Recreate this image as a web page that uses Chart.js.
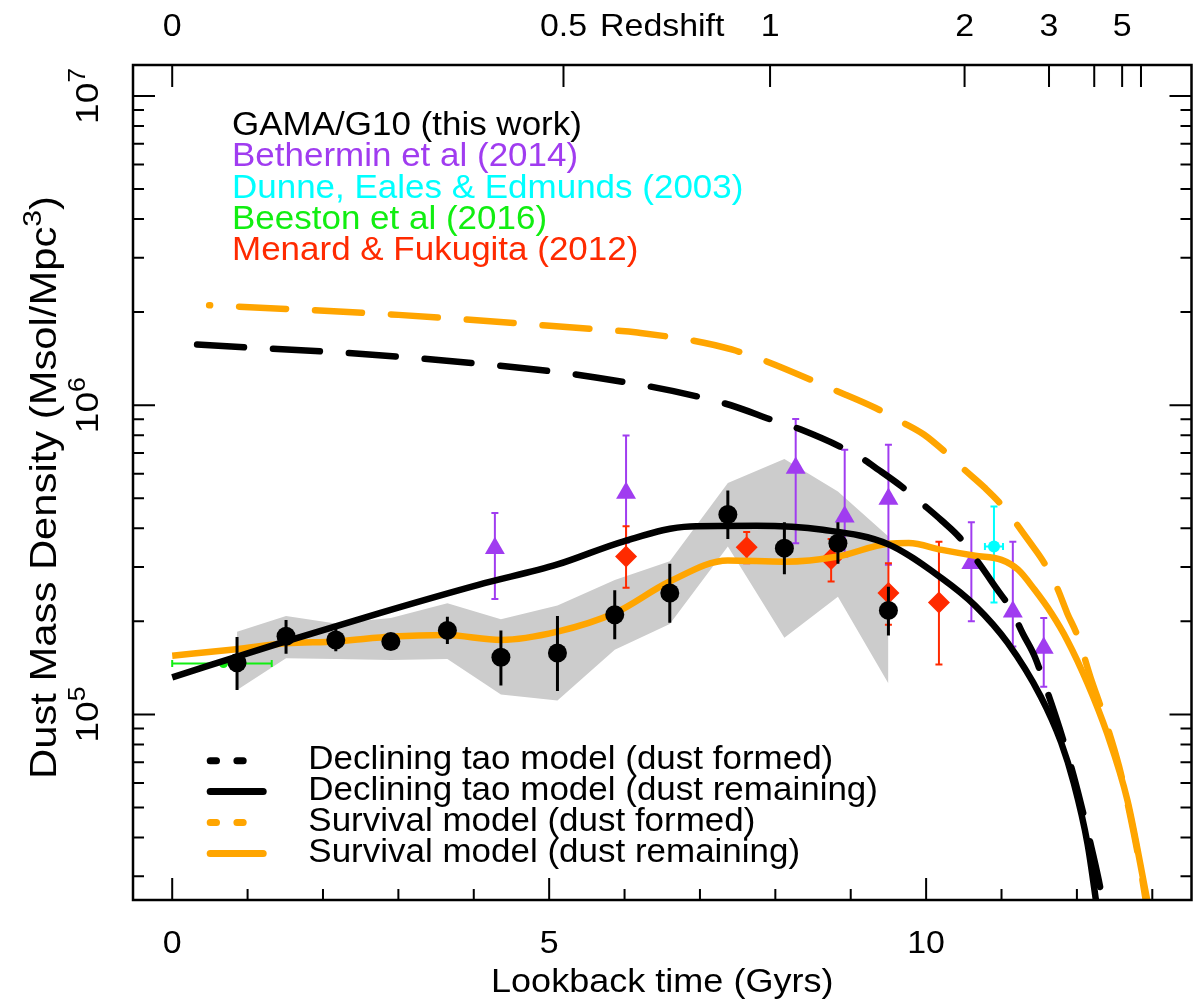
<!DOCTYPE html>
<html>
<head>
<meta charset="utf-8">
<title>Dust mass density vs lookback time</title>
<script src="https://cdn.jsdelivr.net/npm/chart.js@4.4.1/dist/chart.umd.min.js"></script>
<style>
	html, body { margin: 0; padding: 0; background: #fff; }
	canvas { display: block; }
</style>
</head>
<body>
<canvas id="dustChart" width="1203" height="1005"></canvas>
<script>
// lookback time in Gyr, dust mass density in Msol/Mpc^3
const gamaTime = [0.86, 1.51, 2.17, 2.90, 3.65, 4.36, 5.11, 5.87, 6.60, 7.37, 8.12, 8.83, 9.50];
const gamaRho = [1.47e5, 1.79e5, 1.74e5, 1.72e5, 1.87e5, 1.53e5, 1.58e5, 2.10e5, 2.47e5, 4.43e5, 3.45e5, 3.58e5, 2.17e5];
const gamaRhoHi = [1.78e5, 2.02e5, 1.90e5, 1.77e5, 2.07e5, 1.87e5, 2.08e5, 2.52e5, 3.07e5, 5.30e5, 4.18e5, 4.18e5, 2.59e5];
const gamaRhoLo = [1.20e5, 1.57e5, 1.60e5, 1.67e5, 1.69e5, 1.24e5, 1.19e5, 1.75e5, 1.98e5, 3.69e5, 2.84e5, 3.07e5, 1.80e5];
const gamaBandHi = [1.85e5, 2.08e5, 1.97e5, 2.05e5, 2.29e5, 2.03e5, 2.25e5, 2.72e5, 3.13e5, 5.60e5, 6.70e5, 5.26e5, 3.76e5];
const gamaBandLo = [1.20e5, 1.52e5, 1.51e5, 1.50e5, 1.51e5, 1.16e5, 1.11e5, 1.62e5, 1.96e5, 3.49e5, 1.77e5, 2.40e5, 1.26e5];

const bethTime = [4.28, 6.02, 8.27, 8.92, 9.50, 10.60, 11.15, 11.56];
const bethRho = [3.45e5, 5.20e5, 6.27e5, 4.36e5, 4.97e5, 3.08e5, 2.15e5, 1.64e5];
const bethRhoHi = [4.48e5, 7.98e5, 9.02e5, 7.18e5, 7.45e5, 4.18e5, 3.62e5, 2.05e5];
const bethRhoLo = [2.36e5, 3.59e5, 3.58e5, 3.24e5, 3.05e5, 2.00e5, 1.66e5, 1.23e5];

const menardTime = [6.02, 7.62, 8.74, 9.50, 10.17];
const menardRho = [3.24e5, 3.47e5, 3.18e5, 2.47e5, 2.30e5];
const menardRhoHi = [4.06e5, 3.89e5, 3.69e5, 3.08e5, 3.62e5];
const menardRhoLo = [2.57e5, 3.08e5, 2.69e5, 1.95e5, 1.45e5];

const dunneTime = [10.90];
const dunneTimeLo = [10.78];
const dunneTimeHi = [11.02];
const dunneRho = [3.49e5];
const dunneRhoHi = [4.70e5];
const dunneRhoLo = [2.30e5];

const beestonTime = [0.68];
const beestonTimeLo = [0.0];
const beestonTimeHi = [1.32];
const beestonRho = [1.46e5];

const tauFormedTime = [0.33, 3.0, 5.64, 7.31, 8.01, 8.34, 9.11, 9.37, 9.68, 9.94, 10.21, 10.45, 10.73, 10.93, 11.13, 11.28, 11.44, 11.57, 11.77, 11.96, 12.18, 12.29, 12.45];
const tauFormedRho = [1.57e6, 1.435e6, 1.227e6, 1.016e6, 8.87e5, 8.34e5, 6.82e5, 6.18e5, 5.45e5, 4.82e5, 4.23e5, 3.72e5, 3.01e5, 2.56e5, 2.18e5, 1.83e5, 1.54e5, 1.26e5, 9.02e4, 6.30e4, 3.83e4, 2.91e4, 1.78e4];

const tauRemainTime = [0, 1.42, 2.74, 4.06, 5.11, 5.99, 6.87, 7.75, 8.63, 9.50, 10.21, 10.65, 11.08, 11.52, 11.79, 11.96, 12.14, 12.25, 12.40];
const tauRemainRho = [1.318e5, 1.698e5, 2.123e5, 2.624e5, 3.055e5, 3.631e5, 4.055e5, 4.074e5, 3.954e5, 3.548e5, 2.754e5, 2.249e5, 1.706e5, 1.143e5, 8.13e4, 5.98e4, 3.83e4, 2.53e4, 1.35e4];

const survFormedTime = [0.49, 1.55, 3.0, 5.64, 6.17, 7.42, 8.93, 9.33, 9.66, 9.97, 10.27, 10.51, 10.78, 11.02, 11.37, 11.57, 11.74, 11.87, 12.01, 12.18, 12.36, 12.56, 12.71, 12.84, 12.91, 13.05];
const survFormedRho = [2.104e6, 2.046e6, 1.959e6, 1.758e6, 1.718e6, 1.514e6, 1.081e6, 9.79e5, 8.87e5, 8.04e5, 7.00e5, 6.18e5, 5.40e5, 4.70e5, 3.62e5, 3.08e5, 2.56e5, 2.13e5, 1.79e5, 1.32e5, 9.84e4, 6.78e4, 4.67e4, 3.21e4, 2.53e4, 1.58e4];

const survRemainTime = [0, 0.85, 1.51, 2.17, 2.92, 3.62, 4.36, 5.11, 5.87, 6.60, 7.37, 8.12, 8.83, 9.50, 9.77, 10.21, 10.65, 11.00, 11.22, 11.44, 11.66, 11.87, 12.14, 12.40, 12.67, 12.93, 13.10];
const survRemainRho = [1.549e5, 1.626e5, 1.698e5, 1.722e5, 1.786e5, 1.807e5, 1.742e5, 1.853e5, 2.128e5, 2.692e5, 3.148e5, 3.119e5, 3.243e5, 3.565e5, 3.581e5, 3.404e5, 3.258e5, 3.162e5, 2.938e5, 2.529e5, 2.128e5, 1.742e5, 1.262e5, 8.69e4, 5.28e4, 2.53e4, 1.58e4];

// axes
const timeMin = -0.52;
const timeMax = 13.52;
const rhoMin = 2.512e4;
const rhoMax = 1.259e7;
const timeTicks = [0, 1, 2, 3, 4, 5, 6, 7, 8, 9, 10, 11, 12, 13];
const timeLabels = ['0', '', '', '', '', '5', '', '', '', '', '10', '', '', ''];
const redshiftTime = [0, 5.19, 7.93, 10.51, 11.63, 12.23, 12.60, 12.85];
const redshiftLabels = ['0', '0.5', '1', '2', '3', '', '5', ''];
const rhoDecades = [5, 6, 7];

const sourceNames = ['GAMA/G10 (this work)', 'Bethermin et al (2014)', 'Dunne, Eales & Edmunds (2003)', 'Beeston et al (2016)', 'Menard & Fukugita (2012)'];
const sourceColors = ['#000000', '#a03cf0', '#00ffff', '#11ee11', '#ff2a00'];
const modelNames = ['Declining tao model (dust formed)', 'Declining tao model (dust remaining)', 'Survival model (dust formed)', 'Survival model (dust remaining)'];
const modelColors = ['#000000', '#000000', '#ffa500', '#ffa500'];
const modelDashed = [true, false, true, false];

const FONT = '"Liberation Sans", Arial, Helvetica, sans-serif';
const STRETCH = 1.06;
const UP_STRETCH = 1.16;

function pts(xs, ys)
{
	return xs.map((x, i) => ({x: x, y: ys[i]}));
}

function verticalBars(xs, lo, hi)
{
	const out = [];
	xs.forEach((x, i) => {
		out.push({x: x, y: lo[i]}, {x: x, y: hi[i]}, {x: x, y: null});
	});
	return out;
}

function horizontalBars(lo, hi, ys)
{
	const out = [];
	ys.forEach((y, i) => {
		out.push({x: lo[i], y: y}, {x: hi[i], y: y}, {x: hi[i], y: null});
	});
	return out;
}

function errorSet(data, color, width, cap, rotation, order)
{
	return {
		data: data,
		showLine: true,
		spanGaps: false,
		tension: 0,
		borderColor: color,
		borderWidth: width,
		pointStyle: 'line',
		pointRadius: cap,
		pointRotation: rotation,
		pointBorderColor: color,
		pointBorderWidth: width,
		order: order,
	};
}

function markerSet(data, style, radius, color, order)
{
	return {
		data: data,
		showLine: false,
		pointStyle: style,
		pointRadius: radius,
		pointBackgroundColor: color,
		pointBorderWidth: 0,
		order: order,
	};
}

function modelSet(data, color, dashed, dashOffset, order)
{
	return {
		data: data,
		showLine: true,
		borderColor: color,
		borderWidth: 6.5,
		borderDash: dashed ? [47, 29] : [],
		borderDashOffset: dashOffset,
		borderCapStyle: dashed ? 'round' : 'butt',
		borderJoinStyle: 'round',
		cubicInterpolationMode: 'monotone',
		pointRadius: 0,
		clip: 0,
		order: order,
	};
}

function drawText(ctx, str, x, y, size, color, align)
{
	ctx.save();
	ctx.translate(x, y);
	ctx.scale(STRETCH, 1);
	ctx.font = size + 'px ' + FONT;
	ctx.fillStyle = color;
	ctx.textAlign = align;
	ctx.textBaseline = 'alphabetic';
	ctx.fillText(str, 0, 0);
	ctx.restore();
}

// text reading bottom to top, parts with sup are raised
function drawUpText(ctx, parts, x, y, size)
{
	ctx.save();
	ctx.translate(x, y);
	ctx.rotate(-Math.PI / 2);
	ctx.scale(UP_STRETCH, 1);
	ctx.fillStyle = '#000';
	ctx.textAlign = 'left';
	ctx.textBaseline = 'alphabetic';
	const widths = parts.map(p => {
		ctx.font = (p.sup ? size * 0.72 : size) + 'px ' + FONT;
		return ctx.measureText(p.text).width;
	});
	let pos = -widths.reduce((s, w) => s + w, 0) / 2;
	parts.forEach((p, i) => {
		ctx.font = (p.sup ? size * 0.72 : size) + 'px ' + FONT;
		ctx.fillText(p.text, pos, p.sup ? -size * 0.42 : 0);
		pos += widths[i];
	});
	ctx.restore();
}

const paperAxes = {
	id: 'paperAxes',
	afterDatasetsDraw(chart) {
		const ctx = chart.ctx;
		const area = chart.chartArea;
		const xs = chart.scales.x;
		const ys = chart.scales.y;

		ctx.save();
		ctx.strokeStyle = '#000';
		ctx.lineWidth = 2;
		ctx.beginPath();
		timeTicks.forEach((t, i) => {
			const px = xs.getPixelForValue(t);
			const len = timeLabels[i] ? 22 : 11;
			ctx.moveTo(px, area.bottom);
			ctx.lineTo(px, area.bottom - len);
		});
		redshiftTime.forEach(t => {
			const px = xs.getPixelForValue(t);
			ctx.moveTo(px, area.top);
			ctx.lineTo(px, area.top + 22);
		});
		for (let d = 4; d <= 7; d++)
		{
			for (let m = 1; m <= 9; m++)
			{
				const v = m * Math.pow(10, d);
				if (v < rhoMin || v > rhoMax)
				{
					continue;
				}
				const py = ys.getPixelForValue(v);
				const len = m === 1 ? 22 : 11;
				ctx.moveTo(area.left, py);
				ctx.lineTo(area.left + len, py);
				ctx.moveTo(area.right, py);
				ctx.lineTo(area.right - len, py);
			}
		}
		ctx.stroke();
		ctx.lineWidth = 2.5;
		ctx.strokeRect(area.left, area.top, area.right - area.left, area.bottom - area.top);

		// bottom axis
		timeTicks.forEach((t, i) => {
			if (timeLabels[i])
			{
				drawText(ctx, timeLabels[i], xs.getPixelForValue(t), 953, 32, '#000', 'center');
			}
		});
		drawText(ctx, 'Lookback time (Gyrs)', (area.left + area.right) / 2, 992, 34, '#000', 'center');

		// top axis
		redshiftTime.forEach((t, i) => {
			if (redshiftLabels[i])
			{
				drawText(ctx, redshiftLabels[i], xs.getPixelForValue(t), 36, 32, '#000', 'center');
			}
		});
		drawText(ctx, 'Redshift', xs.getPixelForValue(6.50), 36, 32, '#000', 'center');

		// left axis
		rhoDecades.forEach(d => {
			drawUpText(ctx, [{text: '10'}, {text: String(d), sup: true}], 98, ys.getPixelForValue(Math.pow(10, d)), 32);
		});
		drawUpText(ctx, [{text: 'Dust Mass Density (Msol/Mpc'}, {text: '3', sup: true}, {text: ')'}], 56, (area.top + area.bottom) / 2 + 5, 36);

		// legends
		sourceNames.forEach((name, i) => {
			drawText(ctx, name, 232, 134.8 + i * 31.4, 33, sourceColors[i], 'left');
		});
		modelNames.forEach((name, i) => {
			const ly = 760.7 + i * 30.9;
			ctx.save();
			ctx.strokeStyle = modelColors[i];
			ctx.lineWidth = 7;
			ctx.lineCap = 'round';
			ctx.setLineDash(modelDashed[i] ? [6.3, 20.4] : []);
			ctx.beginPath();
			ctx.moveTo(210.2, ly);
			ctx.lineTo(263.2, ly);
			ctx.stroke();
			ctx.restore();
			drawText(ctx, name, 308.3, ly + 8.6, 33, '#000', 'left');
		});
		ctx.restore();
	}
};

const datasets = [
	markerSet(pts(gamaTime, gamaRho), 'circle', 9.5, '#000000', 0),
	errorSet(verticalBars(gamaTime, gamaRhoLo, gamaRhoHi), '#000000', 3, 0, 0, 1),
	modelSet(pts(tauFormedTime, tauFormedRho), '#000000', true, 0, 2),
	modelSet(pts(tauRemainTime, tauRemainRho), '#000000', false, 0, 3),
	modelSet(pts(survRemainTime, survRemainRho), '#ffa500', false, 0, 4),
	modelSet(pts(survFormedTime, survFormedRho), '#ffa500', true, 46, 5),
	markerSet(pts(dunneTime, dunneRho), 'circle', 6, '#00ffff', 6),
	errorSet(verticalBars(dunneTime, dunneRhoLo, dunneRhoHi), '#00ffff', 2, 3.5, 0, 7),
	errorSet(horizontalBars(dunneTimeLo, dunneTimeHi, dunneRho), '#00ffff', 2, 3.5, 90, 8),
	markerSet(pts(menardTime, menardRho), 'rectRot', 11, '#ff2a00', 9),
	errorSet(verticalBars(menardTime, menardRhoLo, menardRhoHi), '#ff2a00', 2, 3.5, 0, 10),
	markerSet(pts(bethTime, bethRho), 'triangle', 11.5, '#a03cf0', 11),
	errorSet(verticalBars(bethTime, bethRhoLo, bethRhoHi), '#a03cf0', 2, 3.5, 0, 12),
	markerSet(pts(beestonTime, beestonRho), 'circle', 4.5, '#11ee11', 13),
	errorSet(horizontalBars(beestonTimeLo, beestonTimeHi, beestonRho), '#11ee11', 2, 3.5, 90, 14),
	{
		data: pts(gamaTime, gamaBandHi),
		showLine: true,
		tension: 0,
		borderWidth: 0,
		borderColor: 'rgba(0,0,0,0)',
		backgroundColor: '#cccccc',
		fill: '+1',
		pointRadius: 0,
		order: 20,
	},
	{
		data: pts(gamaTime, gamaBandLo),
		showLine: true,
		tension: 0,
		borderWidth: 0,
		borderColor: 'rgba(0,0,0,0)',
		fill: false,
		pointRadius: 0,
		order: 21,
	},
];

new Chart(document.getElementById('dustChart'), {
	type: 'line',
	data: {datasets: datasets},
	options: {
		responsive: false,
		animation: false,
		devicePixelRatio: 1,
		events: [],
		layout: {padding: {left: 133, right: 5, top: 65, bottom: 105}},
		scales: {
			x: {type: 'linear', min: timeMin, max: timeMax, display: false},
			y: {type: 'logarithmic', min: rhoMin, max: rhoMax, display: false},
		},
		plugins: {
			legend: {display: false},
			tooltip: {enabled: false},
		},
	},
	plugins: [paperAxes],
});
</script>
</body>
</html>
